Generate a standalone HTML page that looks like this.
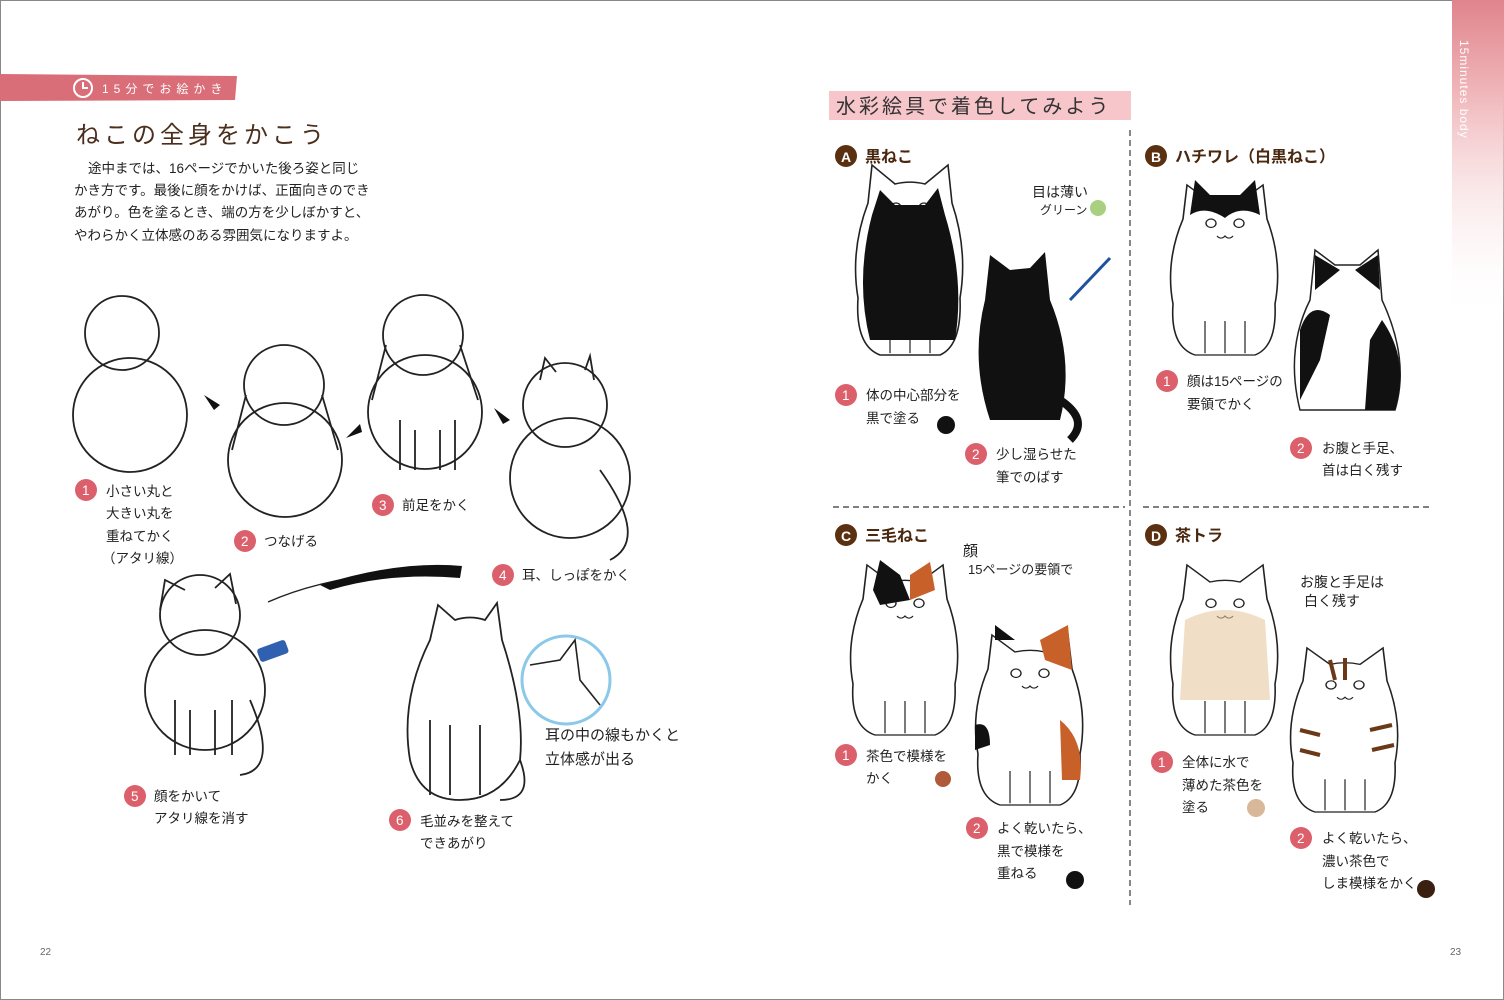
<!DOCTYPE html>
<html><head><meta charset="utf-8"><style>
html,body{margin:0;padding:0;background:#fff}
svg{display:block}
text{font-family:"Liberation Sans","Noto Sans CJK JP",sans-serif}
</style></head><body>
<svg width="1504" height="1000" viewBox="0 0 1504 1000" xmlns="http://www.w3.org/2000/svg">
<defs>
<linearGradient id="pk" x1="0" y1="0" x2="0" y2="1"><stop offset="0" stop-color="#e0848c"/><stop offset="0.3" stop-color="#f0b8bc"/><stop offset="1" stop-color="#fff" stop-opacity="0"/></linearGradient>
<g id="cw"><path d="M-42,-60 L-38,-100 L-15,-80 Q0,-84 15,-80 L38,-100 L42,-60 Q58,-10 50,40 Q52,90 30,100 L-30,100 Q-55,90 -52,40 Q-60,-10 -42,-60 Z" fill="#fff" stroke="#222" stroke-width="1.6"/>
<circle cx="-14" cy="-55" r="5" fill="#fff" stroke="#222" stroke-width="1.4"/><circle cx="14" cy="-55" r="5" fill="#fff" stroke="#222" stroke-width="1.4"/>
<path d="M-8,-40 Q-4,-35 0,-40 Q4,-35 8,-40" fill="none" stroke="#222" stroke-width="1.3"/>
<path d="M-20,60 L-20,98 M0,60 L0,98 M20,60 L20,98" stroke="#222" stroke-width="1.2"/></g>
</defs>
<rect x="0.5" y="0.5" width="1503" height="999" fill="#fff" stroke="#888"/>
<!-- LEFT -->
<path d="M0,74 L237,76 L235,100 L0,101 Z" fill="#d96d78"/>
<circle cx="83" cy="88" r="9" fill="none" stroke="#fff" stroke-width="2"/><path d="M83,82 L83,88 L88,88" fill="none" stroke="#fff" stroke-width="2"/>
<text x="102" y="93" fill="#fff" font-size="12" letter-spacing="5">15分でお絵かき</text>
<text x="76" y="143" fill="#4a2e1e" font-size="24" letter-spacing="4">ねこの全身をかこう</text>
<g font-size="13.5" fill="#222">
<text x="88" y="173">途中までは、16ページでかいた後ろ姿と同じ</text>
<text x="74" y="195">かき方です。最後に顔をかけば、正面向きのでき</text>
<text x="74" y="217">あがり。色を塗るとき、端の方を少しぼかすと、</text>
<text x="74" y="240">やわらかく立体感のある雰囲気になりますよ。</text>
</g>
<g fill="none" stroke="#222" stroke-width="1.8">
<circle cx="122" cy="333" r="37"/><circle cx="130" cy="415" r="57"/>
<circle cx="284" cy="385" r="40"/><circle cx="285" cy="460" r="57"/>
<path d="M246,395 L232,450 M322,395 L338,450"/>
<circle cx="423" cy="335" r="40"/><circle cx="425" cy="412" r="57"/>
<path d="M386,345 L372,400 M460,345 L478,400 M400,420 L400,470 M415,430 L415,470 M440,430 L440,470 M455,420 L455,470"/>
<circle cx="565" cy="405" r="42"/><circle cx="570" cy="478" r="60"/>
<path d="M540,380 L545,358 L556,372 M585,370 L590,356 L594,380 M600,470 Q650,540 610,560"/>
<circle cx="200" cy="615" r="40"/><circle cx="205" cy="690" r="60"/>
<path d="M160,610 L165,580 L185,590 M215,588 L230,574 L236,604 M250,700 Q280,770 240,775 M175,700 L175,755 M190,710 L190,755 M215,710 L215,755 M232,700 L232,755"/>
<path d="M430,640 L438,605 L455,620 Q470,615 485,620 L497,603 L502,640 Q525,710 520,760 Q500,800 460,800 Q420,800 410,760 Q400,700 430,640 Z"/>
<path d="M520,760 Q535,800 500,800 M430,720 L430,795 M450,725 L450,795 M480,725 L480,795"/>
<circle cx="566" cy="680" r="44" stroke="#8cc8e8" stroke-width="3"/>
<path d="M530,665 L560,660 L575,640 L580,680 L600,705" stroke-width="1.6"/>
<path d="M268,602 Q340,570 455,570" stroke-width="1.4"/>
</g>
<path d="M320,585 Q400,560 462,566 L460,578 Q390,572 330,590 Z" fill="#111"/>
<path d="M204,395 L220,405 L214,410 Z M346,438 L360,424 L362,432 Z M494,408 L510,420 L503,424 Z" fill="#111"/>
<rect x="258" y="645" width="30" height="14" rx="3" fill="#3060b0" transform="rotate(-20 270 652)"/>
<g font-size="13.5" fill="#222">
<circle cx="86" cy="490" r="11" fill="#dc5f6c"/><text x="82" y="495" fill="#fff">1</text>
<text x="106" y="496">小さい丸と</text><text x="106" y="518">大きい丸を</text><text x="106" y="541">重ねてかく</text><text x="102" y="563">（アタリ線）</text>
<circle cx="245" cy="541" r="11" fill="#dc5f6c"/><text x="241" y="546" fill="#fff">2</text><text x="264" y="546">つなげる</text>
<circle cx="383" cy="505" r="11" fill="#dc5f6c"/><text x="379" y="510" fill="#fff">3</text><text x="402" y="510">前足をかく</text>
<circle cx="503" cy="575" r="11" fill="#dc5f6c"/><text x="499" y="580" fill="#fff">4</text><text x="522" y="580">耳、しっぽをかく</text>
<circle cx="135" cy="796" r="11" fill="#dc5f6c"/><text x="131" y="801" fill="#fff">5</text><text x="154" y="801">顔をかいて</text><text x="154" y="823">アタリ線を消す</text>
<circle cx="400" cy="820" r="11" fill="#dc5f6c"/><text x="396" y="825" fill="#fff">6</text><text x="420" y="826">毛並みを整えて</text><text x="420" y="848">できあがり</text>
<text x="545" y="740" font-size="15">耳の中の線もかくと</text><text x="545" y="764" font-size="15">立体感が出る</text>
</g>
<text x="40" y="955" font-size="10" fill="#666">22</text>
<!-- RIGHT -->
<rect x="1452" y="0" width="52" height="320" fill="url(#pk)"/>
<text x="1460" y="40" font-size="12" fill="#fff" transform="rotate(90 1460 40)" letter-spacing="1">15minutes body</text>
<rect x="829" y="91" width="302" height="29" fill="#f7c6cb"/>
<text x="836" y="113" font-size="20" fill="#333" letter-spacing="3">水彩絵具で着色してみよう</text>
<g stroke="#555" stroke-width="1.4" stroke-dasharray="6,4"><line x1="1130" y1="130" x2="1130" y2="905"/><line x1="833" y1="507" x2="1125" y2="507"/><line x1="1143" y1="507" x2="1432" y2="507"/></g>
<g font-size="16" font-weight="bold" fill="#4a2810">
<circle cx="846" cy="156" r="11" fill="#5a3010"/><text x="841" y="162" fill="#fff" font-size="14">A</text><text x="865" y="162">黒ねこ</text>
<circle cx="1156" cy="156" r="11" fill="#5a3010"/><text x="1151" y="162" fill="#fff" font-size="14">B</text><text x="1175" y="162">ハチワレ（白黒ねこ）</text>
<circle cx="846" cy="535" r="11" fill="#5a3010"/><text x="841" y="541" fill="#fff" font-size="14">C</text><text x="865" y="541">三毛ねこ</text>
<circle cx="1156" cy="535" r="11" fill="#5a3010"/><text x="1151" y="541" fill="#fff" font-size="14">D</text><text x="1175" y="541">茶トラ</text>
</g>
<!-- cats A -->
<g transform="translate(910,260) scale(1,0.95)"><use href="#cw"/></g>
<path d="M872,215 L880,190 L895,205 L925,205 L938,188 L945,215 Q965,280 955,340 L870,340 Q855,280 872,215 Z" fill="#111"/>
<path d="M985,300 L990,255 L1010,270 L1030,268 L1045,252 L1050,300 Q1075,360 1060,420 L990,420 Q970,360 985,300 Z" fill="#111"/>
<path d="M1060,400 Q1090,420 1070,440" stroke="#111" stroke-width="8" fill="none"/>
<circle cx="1098" cy="208" r="8" fill="#a8d080"/>
<path d="M1070,300 L1110,258" stroke="#2050a0" stroke-width="3"/>
<!-- cats B -->
<g transform="translate(1225,270) scale(1,0.85)"><use href="#cw"/></g>
<path d="M1190,215 L1195,180 L1210,195 L1240,195 L1255,180 L1260,215 Q1240,205 1225,218 Q1205,205 1190,215 Z" fill="#111"/>
<path d="M1310,300 L1315,250 L1335,265 L1360,265 L1378,250 L1382,300 Q1410,360 1395,410 L1300,410 Q1285,350 1310,300 Z" fill="#fff" stroke="#222" stroke-width="1.5"/>
<path d="M1300,330 Q1310,300 1330,315 L1320,360 L1300,400 Z M1382,320 Q1410,360 1395,410 L1365,410 L1370,340 Z" fill="#111"/>
<path d="M1315,255 L1340,270 L1315,290 Z M1378,255 L1380,290 L1355,270 Z" fill="#111"/>
<!-- cats C -->
<g transform="translate(905,650) scale(1,0.85)"><use href="#cw"/></g>
<path d="M873,590 L880,560 L900,575 L910,600 L880,605 Z" fill="#111"/><path d="M910,575 L930,562 L935,590 L910,600 Z" fill="#c8602a"/>
<g transform="translate(1030,720) scale(1,0.85)"><use href="#cw"/></g>
<path d="M995,640 L995,625 L1015,640 Z" fill="#111"/><path d="M1040,640 L1068,625 L1072,670 L1045,660 Z" fill="#c8602a"/>
<path d="M975,725 Q990,720 990,745 L975,750 Z" fill="#111"/><path d="M1060,720 Q1085,740 1080,780 L1062,780 Z" fill="#c8602a"/>
<!-- cats D -->
<g transform="translate(1225,650) scale(1,0.85)"><use href="#cw"/></g>
<path d="M1185,620 Q1225,600 1265,620 L1270,700 L1180,700 Z" fill="#e8c8a0" opacity="0.6"/>
<g transform="translate(1345,730) scale(1,0.82)"><use href="#cw"/></g>
<g stroke="#6a3a18" stroke-width="4"><line x1="1300" y1="730" x2="1320" y2="735"/><line x1="1300" y1="750" x2="1320" y2="755"/><line x1="1370" y1="730" x2="1392" y2="725"/><line x1="1372" y1="750" x2="1394" y2="745"/><line x1="1330" y1="660" x2="1335" y2="680"/><line x1="1345" y1="658" x2="1345" y2="680"/></g>
<g font-size="13.5" fill="#222">
<circle cx="846" cy="395" r="11" fill="#dc5f6c"/><text x="842" y="400" fill="#fff">1</text><text x="866" y="400">体の中心部分を</text><text x="866" y="423">黒で塗る</text><circle cx="946" cy="425" r="9" fill="#111"/>
<circle cx="976" cy="454" r="11" fill="#dc5f6c"/><text x="972" y="459" fill="#fff">2</text><text x="996" y="459">少し湿らせた</text><text x="996" y="482">筆でのばす</text>
<circle cx="1167" cy="381" r="11" fill="#dc5f6c"/><text x="1163" y="386" fill="#fff">1</text><text x="1187" y="386">顔は15ページの</text><text x="1187" y="409">要領でかく</text>
<circle cx="1301" cy="448" r="11" fill="#dc5f6c"/><text x="1297" y="453" fill="#fff">2</text><text x="1322" y="453">お腹と手足、</text><text x="1322" y="475">首は白く残す</text>
<circle cx="846" cy="755" r="11" fill="#dc5f6c"/><text x="842" y="760" fill="#fff">1</text><text x="866" y="761">茶色で模様を</text><text x="866" y="783">かく</text><circle cx="943" cy="779" r="8" fill="#b05a3a"/>
<circle cx="977" cy="828" r="11" fill="#dc5f6c"/><text x="973" y="833" fill="#fff">2</text><text x="997" y="833">よく乾いたら、</text><text x="997" y="856">黒で模様を</text><text x="997" y="878">重ねる</text><circle cx="1075" cy="880" r="9" fill="#111"/>
<circle cx="1162" cy="762" r="11" fill="#dc5f6c"/><text x="1158" y="767" fill="#fff">1</text><text x="1182" y="767">全体に水で</text><text x="1182" y="790">薄めた茶色を</text><text x="1182" y="812">塗る</text><circle cx="1256" cy="808" r="9" fill="#d8b898"/>
<circle cx="1301" cy="838" r="11" fill="#dc5f6c"/><text x="1297" y="843" fill="#fff">2</text><text x="1322" y="843">よく乾いたら、</text><text x="1322" y="866">濃い茶色で</text><text x="1322" y="888">しま模様をかく</text><circle cx="1426" cy="889" r="9" fill="#3a2010"/>
<text x="1032" y="197" font-size="14">目は薄い</text><text x="1040" y="214" font-size="12">グリーン</text>
<text x="963" y="556" font-size="15">顔</text><text x="968" y="574" font-size="13">15ページの要領で</text>
<text x="1300" y="587" font-size="14">お腹と手足は</text><text x="1304" y="606" font-size="14">白く残す</text>
</g>
<text x="1450" y="955" font-size="10" fill="#666">23</text>
</svg>
</body></html>
